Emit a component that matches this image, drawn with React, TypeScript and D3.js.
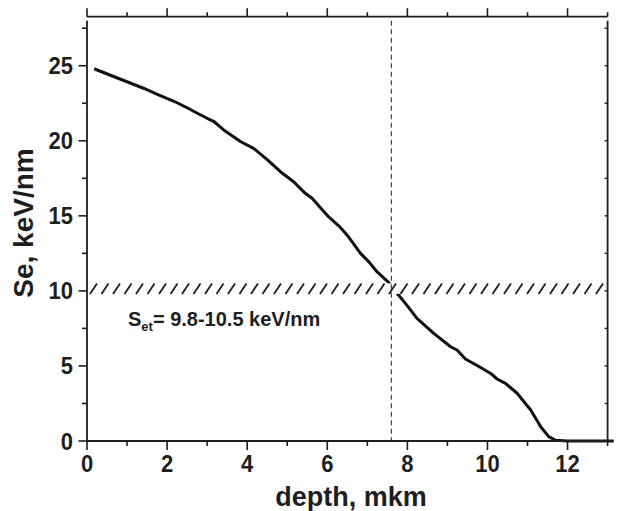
import React from "react";
import * as d3 from "d3";

const width = 620;
const height = 511;
const margin = { top: 20.7, right: 11.5, bottom: 70, left: 87 };

// Se profile
const depth = [
  0.18, 0.6, 1.03, 1.41, 1.8, 2.2, 2.5, 2.78, 3.0, 3.16, 3.45, 3.83, 4.16, 4.5,
  4.83, 5.16, 5.45, 5.62, 6.03, 6.3, 6.53, 6.83, 7.05, 7.24, 7.53, 7.78, 8.0,
  8.24, 8.66, 9.08, 9.24, 9.45, 9.83, 10.08, 10.24, 10.45, 10.74, 11.08, 11.33,
  11.53, 11.7, 12.0, 13.15,
];
const se = [
  24.8, 24.35, 23.9, 23.5, 23.05, 22.6, 22.2, 21.8, 21.5, 21.3, 20.65, 19.95,
  19.5, 18.75, 17.94, 17.27, 16.5, 16.17, 14.94, 14.3, 13.6, 12.5, 11.9, 11.28,
  10.57, 9.73, 9.0, 8.17, 7.17, 6.28, 6.06, 5.46, 4.9, 4.5, 4.13, 3.84, 3.18,
  2.07, 0.95, 0.29, 0.05, 0, 0,
];

const xMajor = [0, 2, 4, 6, 8, 10, 12];
const xMinor = [1, 3, 5, 7, 9, 11, 13];
const yMajor = [0, 5, 10, 15, 20, 25];
const yMinor = [2.5, 7.5, 12.5, 17.5, 22.5, 27.5];

const setLow = 9.8;
const setHigh = 10.5;
const markDepth = 7.6;

const font = "'Liberation Sans', Arial, Helvetica, sans-serif";
const ink = "#1e1e1e";

export default function App() {
  const x = d3
    .scaleLinear()
    .domain([0, 13])
    .range([margin.left, width - margin.right - 0.9]);
  const y = d3
    .scaleLinear()
    .domain([0, 28])
    .range([441, margin.top]);

  const x0 = x(0);
  const x1 = x(13);
  const yTop = y(28);
  const yBot = y(0);
  const topAxisY = yTop - 4;

  const line = d3
    .line<number>()
    .x((_, i) => x(depth[i]))
    .y((d) => y(d));

  const hatchXs = d3.range(x0 + 3, x1 - 6, 11.5);

  return (
    <svg width={width} height={height} style={{ position: "absolute", left: 0, top: 0 }}>
      <rect width={width} height={height} fill="#fff" />

      {/* curve */}
      <path d={line(se) ?? ""} fill="none" stroke="#111" strokeWidth={3} strokeLinejoin="round" />

      {/* threshold band */}
      <rect x={x0 + 1} y={y(setHigh)} width={x1 - x0 - 2} height={y(setLow) - y(setHigh)} fill="#fff" />
      {hatchXs.map((hx, i) => (
        <line key={i} x1={hx} y1={y(setLow)} x2={hx + 7} y2={y(setHigh)} stroke={ink} strokeWidth={1.8} />
      ))}

      {/* depth marker */}
      <line x1={x(markDepth)} x2={x(markDepth)} y1={yTop} y2={yBot} stroke="#333" strokeWidth={1.1} strokeDasharray="5 3.5" />

      {/* frame */}
      <line x1={x0} x2={x0} y1={yTop} y2={yBot} stroke={ink} strokeWidth={1.8} />
      <line x1={x1} x2={x1} y1={yTop} y2={yBot} stroke={ink} strokeWidth={1.8} />
      <line x1={x0} x2={x1 + 6} y1={yBot} y2={yBot} stroke={ink} strokeWidth={1.8} />
      <line x1={x0} x2={x1} y1={topAxisY} y2={topAxisY} stroke={ink} strokeWidth={1.8} />

      {/* bottom + top ticks */}
      {xMajor.map((t) => (
        <g key={"xM" + t}>
          <line x1={x(t)} x2={x(t)} y1={yBot} y2={yBot + 9} stroke={ink} strokeWidth={1.6} />
          <line x1={x(t)} x2={x(t)} y1={topAxisY} y2={topAxisY - 8.5} stroke={ink} strokeWidth={1.6} />
          <text
            transform={`translate(${x(t)}, 471.5) scale(1, 1.08)`}
            textAnchor="middle"
            fontFamily={font}
            fontWeight="bold"
            fontSize={22}
            fill={ink}
          >
            {t}
          </text>
        </g>
      ))}
      {xMinor.map((t) => (
        <g key={"xm" + t}>
          <line x1={x(t)} x2={x(t)} y1={yBot} y2={yBot + 5} stroke={ink} strokeWidth={1.6} />
          <line x1={x(t)} x2={x(t)} y1={topAxisY} y2={topAxisY - 4.5} stroke={ink} strokeWidth={1.6} />
        </g>
      ))}

      {/* left + right ticks */}
      {yMajor.map((t) => (
        <g key={"yM" + t}>
          <line x1={x0 - 8.5} x2={x0} y1={y(t)} y2={y(t)} stroke={ink} strokeWidth={1.6} />
          <line x1={x1 - 3} x2={x1} y1={y(t)} y2={y(t)} stroke={ink} strokeWidth={1.4} />
          <text
            transform={`translate(73, ${y(t) + 8.5}) scale(1, 1.08)`}
            textAnchor="end"
            fontFamily={font}
            fontWeight="bold"
            fontSize={22}
            fill={ink}
          >
            {t}
          </text>
        </g>
      ))}
      {yMinor.map((t) => (
        <g key={"ym" + t}>
          <line x1={x0 - 5} x2={x0} y1={y(t)} y2={y(t)} stroke={ink} strokeWidth={1.6} />
          <line x1={x1 - 3} x2={x1} y1={y(t)} y2={y(t)} stroke={ink} strokeWidth={1.4} />
        </g>
      ))}

      {/* annotation */}
      <text x={128} y={326} fontFamily={font} fontWeight="bold" fontSize={20} fill={ink}>
        S
        <tspan fontSize={13} dy={5}>et</tspan>
        <tspan dy={-5}>= 9.8-10.5 keV/nm</tspan>
      </text>

      {/* axis titles */}
      <text
        transform={`translate(33, 223) rotate(-90)`}
        textAnchor="middle"
        fontFamily={font}
        fontWeight="bold"
        fontSize={28}
        fill={ink}
      >
        Se, keV/nm
      </text>
      <text
        transform="translate(351, 506) scale(1, 1.05)"
        textAnchor="middle"
        fontFamily={font}
        fontWeight="bold"
        fontSize={27}
        fill={ink}
      >
        depth, mkm
      </text>
    </svg>
  );
}
